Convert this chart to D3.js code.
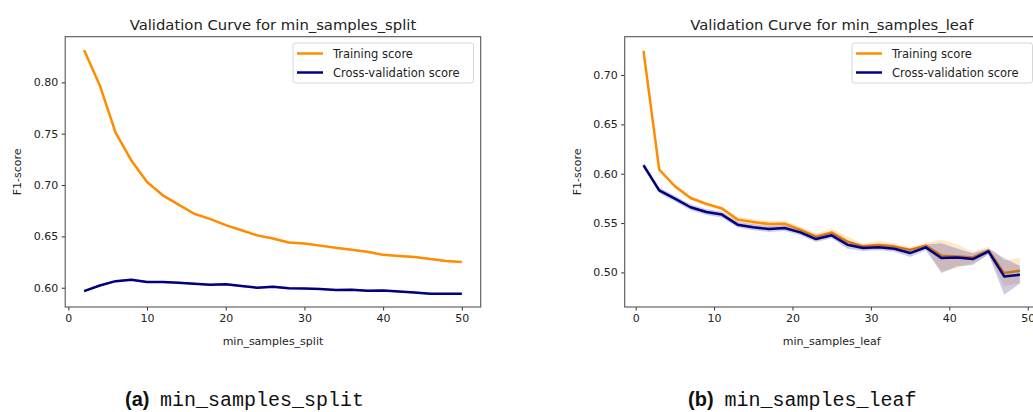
<!DOCTYPE html>
<html>
<head>
<meta charset="utf-8">
<script src="https://cdn.jsdelivr.net/npm/d3@7"></script>
<style>
  body { margin: 0; background: #fff; }
  svg { display: block; font-family: "DejaVu Sans", sans-serif; }
</style>
</head>
<body>
<div id="chart"></div>
<script>
// values
const splitParams = [2, 4, 6, 8, 10, 12, 14, 16, 18, 20, 22, 24, 26, 28, 30, 32, 34, 36, 38, 40, 42, 44, 46, 48, 50];
const splitTrain = [0.8315, 0.797, 0.751, 0.724, 0.703, 0.690, 0.681, 0.672, 0.667, 0.661, 0.656, 0.651, 0.648, 0.644, 0.643, 0.641, 0.639, 0.637, 0.635, 0.632, 0.631, 0.630, 0.628, 0.626, 0.625];
const splitTrainStd = [0.001, 0.001, 0.001, 0.001, 0.001, 0.001, 0.001, 0.001, 0.001, 0.001, 0.001, 0.001, 0.001, 0.001, 0.001, 0.001, 0.001, 0.001, 0.001, 0.001, 0.001, 0.001, 0.001, 0.001, 0.001];
const splitCv = [0.5967, 0.6022, 0.6064, 0.6078, 0.6055, 0.6055, 0.6049, 0.6039, 0.6029, 0.6035, 0.6016, 0.6000, 0.6010, 0.5996, 0.5993, 0.5987, 0.5977, 0.5980, 0.5971, 0.5974, 0.5964, 0.5954, 0.5942, 0.5942, 0.5942];
const splitCvStd = [0.001, 0.001, 0.001, 0.001, 0.001, 0.001, 0.001, 0.001, 0.001, 0.001, 0.001, 0.001, 0.001, 0.001, 0.001, 0.001, 0.001, 0.001, 0.001, 0.001, 0.001, 0.001, 0.001, 0.001, 0.001];

const leafParams = [1, 3, 5, 7, 9, 11, 13, 15, 17, 19, 21, 23, 25, 27, 29, 31, 33, 35, 37, 39, 41, 43, 45, 47, 49];
const leafTrain = [0.7244, 0.6043, 0.5873, 0.5754, 0.5694, 0.5647, 0.5535, 0.5511, 0.5490, 0.5494, 0.5433, 0.5365, 0.5406, 0.5315, 0.5264, 0.5281, 0.5264, 0.5230, 0.5271, 0.5170, 0.5162, 0.5152, 0.5220, 0.4993, 0.5017];
const leafTrainStd = [0.002, 0.002, 0.002, 0.002, 0.002, 0.002, 0.003, 0.003, 0.003, 0.003, 0.003, 0.003, 0.004, 0.005, 0.003, 0.004, 0.003, 0.003, 0.003, 0.016, 0.012, 0.006, 0.004, 0.013, 0.013];
const leafCv = [0.6086, 0.5832, 0.5748, 0.5660, 0.5612, 0.5586, 0.5484, 0.5457, 0.5440, 0.5450, 0.5406, 0.5338, 0.5376, 0.5281, 0.5247, 0.5254, 0.5240, 0.5196, 0.5254, 0.5145, 0.5152, 0.5135, 0.5213, 0.4959, 0.4977];
const leafCvStd = [0.002, 0.003, 0.003, 0.003, 0.003, 0.003, 0.003, 0.003, 0.003, 0.003, 0.003, 0.003, 0.003, 0.004, 0.003, 0.003, 0.003, 0.004, 0.003, 0.015, 0.009, 0.006, 0.003, 0.0185, 0.009];

const xTicks = [0, 10, 20, 30, 40, 50];
const splitYTicks = [0.60, 0.65, 0.70, 0.75, 0.80];
const leafYTicks = [0.50, 0.55, 0.60, 0.65, 0.70];
const seriesNames = ["Training score", "Cross-validation score"];

const W = 1033, H = 412;
const plotTop = 36.7, plotBottom = 307;
const trainColor = "darkorange", cvColor = "navy";

const svg = d3.select("#chart").append("svg")
  .attr("width", W)
  .attr("height", H);

const panels = [
  { id: "a", params: splitParams, train: splitTrain, trainStd: splitTrainStd, cv: splitCv, cvStd: splitCvStd,
    yTicks: splitYTicks, left: 65.2, right: 480.7, name: "min_samples_split",
    legendX: 293, capX: 125, capMonoX: 160 },
  { id: "b", params: leafParams, train: leafTrain, trainStd: leafTrainStd, cv: leafCv, cvStd: leafCvStd,
    yTicks: leafYTicks, left: 624.7, right: 1038.7, name: "min_samples_leaf",
    legendX: 852, capX: 688, capMonoX: 724.6 }
];

panels.forEach(p => {
  const rows = p.params.map((v, i) => ({
    x: v, tr: p.train[i], trs: p.trainStd[i], cv: p.cv[i], cvs: p.cvStd[i]
  }));

  // matplotlib style 5% margins
  const xMin = d3.min(p.params), xMax = d3.max(p.params);
  const xPad = (xMax - xMin) * 0.05;
  const yMin = d3.min(rows, d => Math.min(d.tr - d.trs, d.cv - d.cvs));
  const yMax = d3.max(rows, d => Math.max(d.tr + d.trs, d.cv + d.cvs));
  const yPad = (yMax - yMin) * 0.05;

  const x = d3.scaleLinear().domain([xMin - xPad, xMax + xPad]).range([p.left, p.right]);
  const y = d3.scaleLinear().domain([yMin - yPad, yMax + yPad]).range([plotBottom, plotTop]);

  const g = svg.append("g");

  g.append("clipPath").attr("id", "clip-" + p.id)
    .append("rect")
    .attr("x", p.left).attr("y", plotTop)
    .attr("width", p.right - p.left).attr("height", plotBottom - plotTop);

  const plot = g.append("g").attr("clip-path", `url(#clip-${p.id})`);

  const line = key => d3.line().x(d => x(d.x)).y(d => y(d[key]));
  const band = (key, sk) => d3.area().x(d => x(d.x))
    .y0(d => y(d[key] - d[sk])).y1(d => y(d[key] + d[sk]));

  plot.append("path").datum(rows)
    .attr("fill", "none").attr("stroke", trainColor).attr("stroke-width", 2.5)
    .attr("stroke-linejoin", "round")
    .attr("d", line("tr"));
  plot.append("path").datum(rows)
    .attr("fill", trainColor).attr("fill-opacity", 0.2)
    .attr("d", band("tr", "trs"));
  plot.append("path").datum(rows)
    .attr("fill", "none").attr("stroke", cvColor).attr("stroke-width", 2.5)
    .attr("stroke-linejoin", "round")
    .attr("d", line("cv"));
  plot.append("path").datum(rows)
    .attr("fill", cvColor).attr("fill-opacity", 0.2)
    .attr("d", band("cv", "cvs"));

  // axes
  g.append("g")
    .attr("transform", `translate(0,${plotBottom})`)
    .call(d3.axisBottom(x).tickValues(xTicks).tickFormat(d3.format("d")).tickSize(3.5).tickPadding(3.5))
    .call(a => a.select(".domain").remove())
    .call(a => a.selectAll(".tick line").attr("stroke", "#333"))
    .call(a => a.selectAll("text").attr("fill", "#222").style("font-size", "11px").style("font-family", "DejaVu Sans"));

  g.append("g")
    .attr("transform", `translate(${p.left},0)`)
    .call(d3.axisLeft(y).tickValues(p.yTicks).tickFormat(d3.format(".2f")).tickSize(3.5).tickPadding(3.5))
    .call(a => a.select(".domain").remove())
    .call(a => a.selectAll(".tick line").attr("stroke", "#333"))
    .call(a => a.selectAll("text").attr("fill", "#222").style("font-size", "11px").style("font-family", "DejaVu Sans"));

  // frame
  g.append("rect")
    .attr("x", p.left).attr("y", plotTop)
    .attr("width", p.right - p.left).attr("height", plotBottom - plotTop)
    .attr("fill", "none").attr("stroke", "#555").attr("stroke-width", 1.1);

  const cx = (p.left + p.right) / 2;

  g.append("text")
    .attr("x", cx).attr("y", 30)
    .attr("text-anchor", "middle")
    .attr("fill", "#222")
    .style("font-size", "14.8px")
    .text("Validation Curve for " + p.name);

  g.append("text")
    .attr("x", cx).attr("y", 345)
    .attr("text-anchor", "middle")
    .attr("fill", "#222")
    .style("font-size", "11px")
    .text(p.name);

  g.append("text")
    .attr("transform", `translate(${p.left - 44},${(plotTop + plotBottom) / 2}) rotate(-90)`)
    .attr("text-anchor", "middle")
    .attr("fill", "#222")
    .style("font-size", "11px")
    .text("F1-score");

  // legend
  const lg = g.append("g").attr("transform", `translate(${p.legendX},43)`);
  lg.append("rect")
    .attr("width", 180.5).attr("height", 40).attr("rx", 2.5)
    .attr("fill", "#fff").attr("fill-opacity", 0.8)
    .attr("stroke", "#d6d6d6");
  seriesNames.forEach((s, i) => {
    const yy = 10.5 + i * 19;
    lg.append("line")
      .attr("x1", 4).attr("x2", 30).attr("y1", yy).attr("y2", yy)
      .attr("stroke", i === 0 ? trainColor : cvColor).attr("stroke-width", 2.5);
    lg.append("text")
      .attr("x", 40).attr("y", yy + 4)
      .attr("fill", "#222")
      .style("font-size", "11.5px")
      .text(s);
  });

  // caption under the panel
  const cap = svg.append("text").attr("y", 406).attr("fill", "#111");
  cap.append("tspan")
    .attr("x", p.capX)
    .style("font-family", "Liberation Sans, Arial, sans-serif")
    .style("font-weight", "bold")
    .style("font-size", "20px")
    .text(`(${p.id})`);
  cap.append("tspan")
    .attr("x", p.capMonoX)
    .style("font-family", "Liberation Mono, monospace")
    .style("font-size", "20px")
    .text(p.name);
});
</script>
</body>
</html>
